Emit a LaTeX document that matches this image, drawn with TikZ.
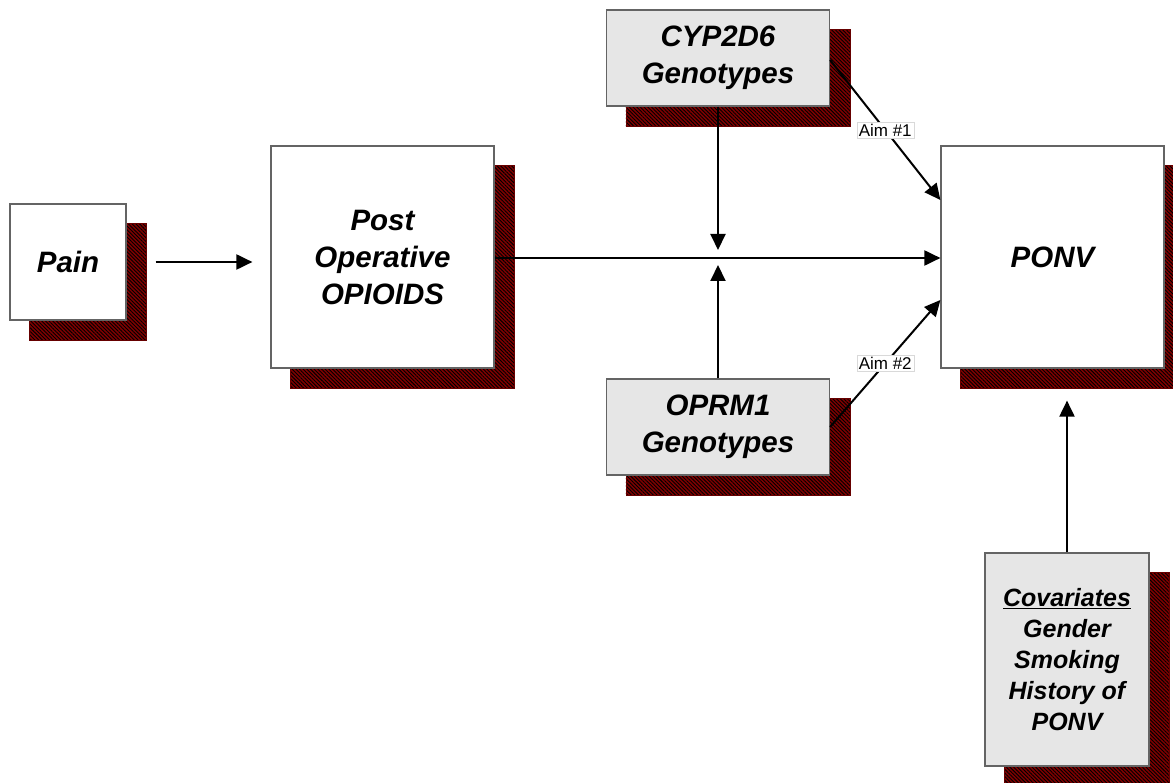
\documentclass[tikz,border=0pt]{standalone}
\usepackage{fontspec}
\setmainfont{Liberation Sans}
\usetikzlibrary{arrows.meta,patterns.meta,backgrounds}
\definecolor{shadowred}{RGB}{128,0,0}
\definecolor{boxgray}{RGB}{230,230,230}
\definecolor{edgegray}{RGB}{100,100,100}
\tikzset{
  box/.style={draw=edgegray, line width=1.2pt, inner sep=0pt, align=center,
    font=\fontsize{29.5}{37}\selectfont\bfseries\itshape},
  whitebox/.style={box, fill=white},
  graybox/.style={box, fill=boxgray},
  hatch/.style={preaction={fill=shadowred}, draw=shadowred!80!black, line width=0.5pt,
    pattern={Lines[angle=-45,distance=2.6pt,line width=0.9pt]}, pattern color=black},
  conn/.style={line width=2pt, -{Triangle[length=16pt,width=15pt]}},
  aim/.style={fill=white, draw=black!15, line width=0.4pt, inner sep=2pt,
    font=\fontsize{17}{19}\selectfont}
}
\begin{document}
\begin{tikzpicture}[x=1pt,y=-1pt]
\useasboundingbox (0,0) rectangle (1173,783);
\node[whitebox, minimum width=116pt, minimum height=116pt] (pain) at (68,262) {Pain};
\node[whitebox, minimum width=223pt, minimum height=222pt] (post) at (382.5,257) {Post\\Operative\\OPIOIDS};
\node[graybox, minimum width=223pt, minimum height=96pt] (cyp) at (718,58) {CYP2D6\\Genotypes};
\node[graybox, minimum width=223pt, minimum height=96pt] (oprm) at (718,427) {OPRM1\\Genotypes};
\node[whitebox, minimum width=223pt, minimum height=222pt] (ponv) at (1052.5,257) {PONV};
\node[graybox, minimum width=164pt, minimum height=213pt,
  font=\fontsize{25}{30.8}\selectfont\bfseries\itshape] (cov) at (1067,659.5)
  {\underline{Covariates}\\Gender\\Smoking\\History of\\PONV};
\begin{scope}[on background layer]
  \foreach \n in {pain,post,cyp,oprm,ponv,cov}{
    \draw[hatch] ([shift={(20,20)}]\n.north west) rectangle ([shift={(20,20)}]\n.south east);
  }
\end{scope}
\coordinate (j1) at (718,250);
\coordinate (j2) at (718,265);
\draw[conn, shorten <=29pt, shorten >=18pt] (pain.east) -- (pain.east -| post.west);
\draw[conn] ([yshift=-1pt]post.east) -- ([yshift=-1pt]ponv.west);
\draw[conn] (cyp.south) -- (j1);
\draw[conn] (oprm.north) -- (j2);
\draw[conn] ([yshift=-2pt]cyp.east) -- node[aim, pos=0.5]{Aim \#1} ([yshift=57pt]ponv.west);
\draw[conn] (oprm.east) -- node[aim, pos=0.5]{Aim \#2} ([yshift=-43pt]ponv.west);
\draw[conn, shorten >=32pt] (cov.north) -- (cov.north |- ponv.south);
\end{tikzpicture}
\end{document}
